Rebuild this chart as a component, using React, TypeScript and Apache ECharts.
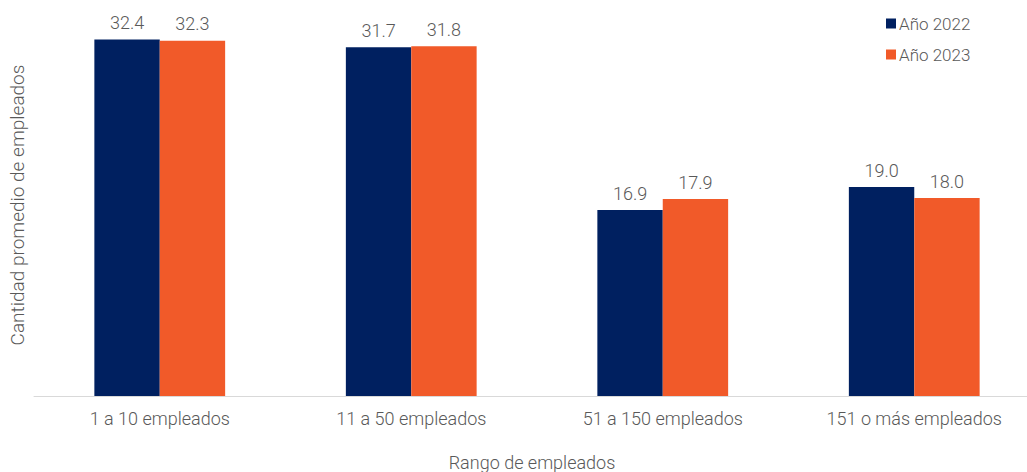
import React, { useEffect, useRef } from "react";
import * as echarts from "echarts";

const categories = ["1 a 10 empleados", "11 a 50 empleados", "51 a 150 empleados", "151 o más empleados"];
const serie2022 = [32.4, 31.7, 16.9, 19.0];
const serie2023 = [32.3, 31.8, 17.9, 18.0];
const seriesNames = ["Año 2022", "Año 2023"];

export default function App() {
  const ref = useRef<HTMLDivElement>(null);
  useEffect(() => {
    if (!ref.current) return;
    const chart = echarts.init(ref.current, undefined, { renderer: "svg" });
    const font = "Roboto";
    const textColor = "#595959";
    const w = 300;
    const labelCfg = {
      show: true,
      position: "top",
      distance: 8,
      formatter: (p: any) => p.value.toFixed(1),
      fontFamily: font,
      fontWeight: w,
      fontSize: 18,
      color: textColor,
    };
    chart.setOption({
      animation: false,
      textStyle: { fontFamily: font },
      legend: {
        orient: "vertical",
        left: 881,
        top: 10,
        itemWidth: 10,
        itemHeight: 10,
        itemGap: 14,
        icon: "rect",
        textStyle: { fontFamily: font, fontWeight: w, fontSize: 17, color: textColor, padding: [0, 0, 0, -2] },
        data: seriesNames,
      },
      grid: { left: 34, width: 1006, top: 0, height: 396, containLabel: false, outerBoundsMode: "none" },
      xAxis: {
        type: "category",
        data: categories,
        name: "Rango de empleados",
        nameLocation: "middle",
        nameGap: 57,
        nameTextStyle: { fontFamily: font, fontWeight: w, fontSize: 18, color: textColor, padding: [0, 10, 0, 0] },
        axisLine: { lineStyle: { color: "#d9d9d9", width: 1 } },
        axisTick: { show: false },
        axisLabel: { fontFamily: font, fontWeight: w, fontSize: 18, color: textColor, margin: 13 },
      },
      yAxis: {
        type: "value",
        min: 0,
        max: 36,
        show: true,
        axisLine: { show: false },
        axisTick: { show: false },
        axisLabel: { show: false },
        splitLine: { show: false },
        name: "Cantidad promedio de empleados",
        nameLocation: "middle",
        nameGap: 7,
        nameTextStyle: { fontFamily: font, fontWeight: w, fontSize: 19, color: textColor, padding: [0, 14, 0, 0] },
      },
      series: [
        {
          name: seriesNames[0],
          type: "bar",
          data: serie2022,
          barGap: "0%",
          barCategoryGap: "48%",
          itemStyle: { color: "#002060" },
          label: labelCfg,
        },
        {
          name: seriesNames[1],
          type: "bar",
          data: serie2023,
          itemStyle: { color: "#F15A29" },
          label: labelCfg,
        },
      ],
    });
    return () => chart.dispose();
  }, []);
  return (
    <div
      ref={ref}
      style={{ position: "absolute", left: 0, top: 0, width: 1027, height: 472, background: "#fff" }}
    />
  );
}
